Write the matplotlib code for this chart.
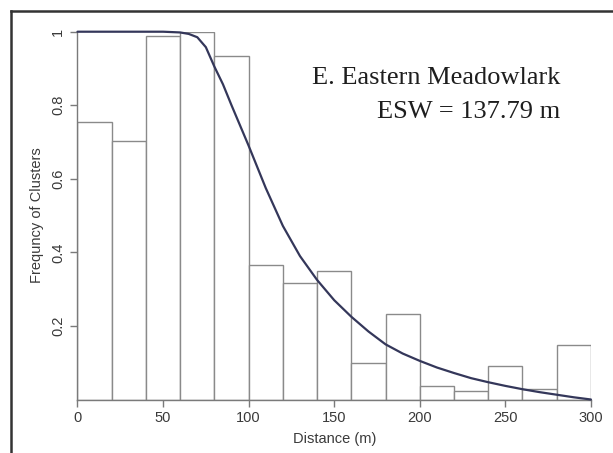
import numpy as np
import matplotlib
matplotlib.use("Agg")
from matplotlib import pyplot as plt
from matplotlib.lines import Line2D

# histogram of cluster distances, 20 m bins
bin_left = [0, 20, 40, 60, 80, 100, 120, 140, 160, 180, 200, 220, 240, 260, 280]
bin_freq = [0.755, 0.704, 0.987, 1.0, 0.933, 0.365, 0.317, 0.349, 0.100,
            0.233, 0.038, 0.024, 0.092, 0.029, 0.148]
bin_width = 20

# fitted detection function
curve_x = [0, 10, 20, 30, 40, 50, 60, 65, 70, 75, 80, 85, 90, 95, 100, 110, 120,
           130, 140, 150, 160, 170, 180, 190, 200, 210, 220, 230, 240, 250,
           260, 270, 280, 290, 300]
curve_y = [1.0, 1.0, 1.0, 1.0, 1.0, 1.0, 0.998, 0.994, 0.985, 0.958, 0.905, 0.857,
           0.80, 0.745, 0.69, 0.575, 0.472, 0.39, 0.325, 0.27, 0.225, 0.185,
           0.15, 0.125, 0.105, 0.087, 0.072, 0.058, 0.047, 0.037, 0.028,
           0.020, 0.013, 0.006, 0.0]

x_ticks = [0, 50, 100, 150, 200, 250, 300]
y_ticks = [0.2, 0.4, 0.6, 0.8, 1.0]
y_labels = ["0.2", "0.4", "0.6", "0.8", "1"]

fig = plt.figure(figsize=(6.13, 4.53), dpi=100)
ax = fig.add_axes([0.1264, 0.1181, 0.8376, 0.8119])

ax.bar(bin_left, bin_freq, width=bin_width, align="edge",
       facecolor="white", edgecolor="#8a8a8a", linewidth=1.0, zorder=2)
ax.plot(curve_x, curve_y, color="#34375a", linewidth=1.6, zorder=3,
        clip_on=False, solid_capstyle="round")

ax.set_xlim(0, 300)
ax.set_ylim(0, 1)
for s in ["top", "right"]:
    ax.spines[s].set_visible(False)
for s in ["left", "bottom"]:
    ax.spines[s].set_color("#7a7a7a")
    ax.spines[s].set_linewidth(1.0)
ax.spines["left"].set_bounds(0, 1)

ax.set_xticks(x_ticks)
ax.set_xticklabels([str(t) for t in x_ticks], fontsize=10.5,
                   family="Liberation Sans", color="#3a3a3a")
ax.set_yticks(y_ticks)
ax.set_yticklabels(y_labels, fontsize=10.5, family="Liberation Sans",
                   color="#3a3a3a", rotation=90, va="center")
ax.tick_params(axis="both", length=5, width=1.0, color="#7a7a7a")
ax.tick_params(axis="x", pad=3)
ax.tick_params(axis="y", pad=4)

ax.set_xlabel("Distance (m)", fontsize=10.5, family="Liberation Sans",
              color="#3a3a3a", labelpad=5)
ax.set_ylabel("Frequncy of Clusters", fontsize=10.5, family="Liberation Sans",
              color="#3a3a3a", labelpad=5)

ax.text(0.941, 0.858, "E. Eastern Meadowlark", transform=ax.transAxes,
        ha="right", va="baseline", fontsize=19, family="Liberation Serif",
        color="#1e1e1e")
ax.text(0.941, 0.765, "ESW = 137.79 m", transform=ax.transAxes,
        ha="right", va="baseline", fontsize=19, family="Liberation Serif",
        color="#1e1e1e")

# outer frame running off the right and bottom edges
fx = 10.5 / 613
fy = 1 - 10.5 / 453
fig.add_artist(Line2D([fx, fx], [-0.01, fy], transform=fig.transFigure,
                      color="#333333", linewidth=1.8))
fig.add_artist(Line2D([fx, 1.01], [fy, fy], transform=fig.transFigure,
                      color="#333333", linewidth=1.8))

fig.savefig("out.png", dpi=100)
